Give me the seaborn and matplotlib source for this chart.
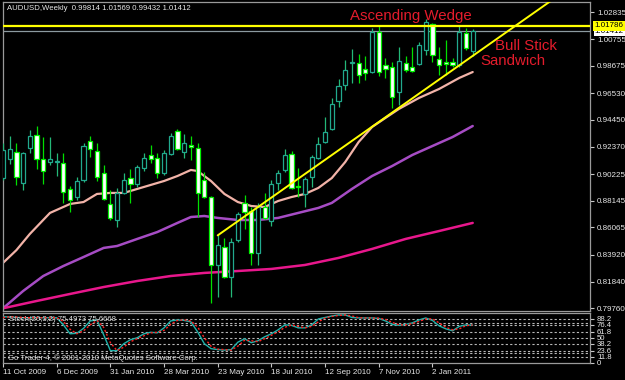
import matplotlib
matplotlib.use('Agg')
import matplotlib.pyplot as plt
import matplotlib.transforms as mtransforms
import numpy as np
import pandas as pd
import seaborn as sns

# ---------------- data ----------------
date_labels = ['11 Oct 2009', '6 Dec 2009', '31 Jan 2010', '28 Mar 2010', '23 May 2010',
               '18 Jul 2010', '12 Sep 2010', '7 Nov 2010', '2 Jan 2011']
date_weeks = [0, 8, 16, 24, 32, 40, 48, 56, 64]

opens = [0.8992, 0.9141, 0.9195, 0.8954, 0.9227, 0.9328, 0.9141, 0.9117, 0.9117, 0.9110,
         0.8907, 0.8844, 0.8977, 0.9281, 0.9203, 0.9032, 0.8790, 0.8665, 0.8876, 0.8992,
         0.8946, 0.9071, 0.9172, 0.9149, 0.9032, 0.9180, 0.9359, 0.9195, 0.9250, 0.9227,
         0.8977, 0.8844, 0.8314, 0.8454, 0.8221, 0.8509, 0.8798, 0.8735, 0.8408, 0.8766,
         0.8657, 0.8954, 0.9055, 0.9180, 0.8930, 0.8868, 0.9000, 0.9149, 0.9273, 0.9375,
         0.9593, 0.9718, 0.9890, 0.9890, 0.9843, 0.9819, 1.0131, 0.9874, 0.9858, 0.9663,
         0.9890, 0.9858, 0.9882, 0.9991, 1.0194, 0.9921, 0.9897, 0.9897, 0.9874, 1.0124,
         0.99814]
highs = [0.9266, 0.9320, 0.9266, 0.9195, 0.9367, 0.9398, 0.9312, 0.9312, 0.9188, 0.9188,
         0.8930, 0.9000, 0.9266, 0.9320, 0.9266, 0.9094, 0.8899, 0.8915, 0.9032, 0.9063,
         0.9094, 0.9188, 0.9250, 0.9188, 0.9211, 0.9344, 0.9375, 0.9336, 0.9320, 0.9266,
         0.9039, 0.8852, 0.8556, 0.8525, 0.8525, 0.8727, 0.8860, 0.8766, 0.8798, 0.8876,
         0.8977, 0.9055, 0.9219, 0.9203, 0.9071, 0.9000, 0.9172, 0.9312, 0.9468, 0.9617,
         0.9765, 0.9913, 0.9999, 0.9960, 0.9944, 1.0163, 1.0178, 0.9929, 0.9897, 1.0014,
         0.9944, 1.0014, 1.0053, 1.0233, 1.0202, 1.0014, 1.0069, 0.9929, 1.0186, 1.0163,
         1.01569]
lows = [0.8977, 0.9102, 0.8938, 0.8899, 0.9188, 0.9063, 0.8946, 0.9094, 0.9008, 0.8798,
        0.8727, 0.8821, 0.8961, 0.9156, 0.8969, 0.8821, 0.8665, 0.8610, 0.8868, 0.8798,
        0.8922, 0.9047, 0.9110, 0.8992, 0.9016, 0.9172, 0.9211, 0.9149, 0.9133, 0.8688,
        0.8837, 0.8018, 0.8065, 0.8213, 0.8065, 0.8493, 0.8595, 0.8314, 0.8314, 0.8673,
        0.8618, 0.8899, 0.9039, 0.8907, 0.8844, 0.8766, 0.8922, 0.9141, 0.9266, 0.9367,
        0.9546, 0.9679, 0.9734, 0.9734, 0.9757, 0.9812, 0.9788, 0.9773, 0.9539, 0.9562,
        0.9819, 0.9819, 0.9874, 0.9952, 0.9897, 0.9796, 0.9796, 0.9858, 0.9858, 0.9991,
        0.99432]
closes = [0.9211, 0.9219, 0.9000, 0.9188, 0.9320, 0.9141, 0.9047, 0.9141, 0.9125, 0.8883,
          0.8821, 0.8969, 0.9242, 0.9219, 0.9000, 0.8829, 0.8681, 0.8876, 0.8977, 0.8946,
          0.9078, 0.9149, 0.9141, 0.9032, 0.9188, 0.9320, 0.9219, 0.9266, 0.9234, 0.8876,
          0.8844, 0.8314, 0.8470, 0.8221, 0.8493, 0.8712, 0.8727, 0.8408, 0.8766, 0.8681,
          0.8946, 0.9032, 0.9172, 0.8915, 0.8922, 0.8985, 0.9156, 0.9258, 0.9351, 0.9570,
          0.9710, 0.9835, 0.9897, 0.9796, 0.9812, 1.0131, 0.9819, 0.9843, 0.9624, 0.9905,
          0.9835, 0.9827, 1.0030, 1.0209, 0.9952, 0.9874, 0.9882, 0.9874, 1.0131, 1.0006,
          1.01412]

ma_fast_weeks = [0, 2, 4, 7, 10, 12, 14, 16, 18, 20, 22, 24, 26, 28, 29, 31, 33, 35, 37,
                 39, 41, 43, 45, 47, 49, 51, 53, 55, 57, 59, 62, 65, 68, 70]
ma_fast = [0.8330, 0.8430, 0.8556, 0.8720, 0.8790, 0.8805, 0.8868, 0.8876, 0.8876, 0.8907,
           0.8938, 0.8969, 0.9008, 0.9055, 0.9047, 0.8969, 0.8868, 0.8805, 0.8774, 0.8766,
           0.8813, 0.8844, 0.8868, 0.8915, 0.8992, 0.9117, 0.9273, 0.9390, 0.9461, 0.9531,
           0.9617, 0.9687, 0.9773, 0.9819]
ma_mid_weeks = [0, 3, 6, 9, 12, 15, 17, 20, 23, 26, 28, 30, 32, 35, 38, 41, 44, 47, 49,
                52, 55, 58, 61, 64, 67, 70]
ma_mid = [0.7976, 0.8111, 0.8228, 0.8306, 0.8376, 0.8447, 0.8462, 0.8517, 0.8571, 0.8642,
          0.8688, 0.8696, 0.8681, 0.8665, 0.8665, 0.8681, 0.8720, 0.8759, 0.8798, 0.8907,
          0.9008, 0.9086, 0.9172, 0.9242, 0.9312, 0.9398]
ma_slow_weeks = [0, 5, 10, 15, 20, 25, 30, 35, 40, 45, 50, 55, 60, 65, 70]
ma_slow = [0.7976, 0.8033, 0.8088, 0.8142, 0.8189, 0.8228, 0.8252, 0.8267, 0.8283, 0.8314,
           0.8369, 0.8439, 0.8517, 0.8579, 0.8642]

trend_weeks = [32, 82]
trend_prices = [0.8545, 1.0387]
resistance = 1.01786
bid = 1.01412

stoch_main = [92.5, 92, 91, 90.5, 90.5, 90.5, 90.5, 90.5, 90.5, 76, 58, 59, 69, 84, 86, 56,
              24, 24, 38, 46, 50, 58, 61, 60, 70, 84, 86, 85, 82, 62, 38, 28, 26, 25, 26,
              41, 48, 40, 44, 52, 58, 66, 76, 75, 70, 70, 76, 88, 91, 94, 96, 96, 91, 90,
              90, 90, 89, 84, 77, 75, 77, 80, 86, 90, 85, 74, 68, 64, 73, 76, 75.4973]
stoch_signal = [91, 92, 92, 91, 90.5, 90.5, 90.5, 90.5, 90.5, 83, 67, 58, 64, 76, 85, 71,
                40, 24, 31, 42, 48, 54, 60, 61, 65, 77, 85, 86, 84, 72, 50, 33, 27, 26, 25,
                33, 45, 44, 42, 48, 55, 62, 71, 76, 73, 70, 73, 82, 90, 93, 95, 96, 94, 90.5,
                90, 90, 89.5, 87, 81, 76, 76, 78.5, 83, 88, 88, 80, 71, 66, 68, 74.5, 75.6668]
stoch_levels = [88.2, 80, 76.4, 61.8, 50, 38.2, 23.6, 20, 11.8]
stoch_tick_vals = [88.2, 76.4, 61.8, 50, 38.2, 23.6, 11.8, 0]

price_ticks = [1.02835, 1.00755, 0.98675, 0.96530, 0.94450, 0.92370, 0.90225, 0.88145,
               0.86065, 0.83920, 0.81840, 0.79760]

# ---------------- style ----------------
sns.set_theme(style='dark', rc={'axes.facecolor': 'black', 'figure.facecolor': 'black'})
plt.rcParams['font.family'] = ['Liberation Sans', 'DejaVu Sans']

W, H = 625, 380
fig = plt.figure(figsize=(W / 100, H / 100), dpi=100)
fig.patch.set_facecolor('black')


def fx(px):
    return px / W


def fy(py):
    return 1 - py / H


ax = fig.add_axes([fx(3), fy(311), fx(590) - fx(3), fy(2) - fy(311)])
ax2 = fig.add_axes([fx(3), fy(362.5), fx(590) - fx(3), fy(313) - fy(362.5)])
XMAX = 587 / 6.71
for a in (ax, ax2):
    a.set_facecolor('black')
    a.set_xlim(0, XMAX)
    a.grid(False)
    for s in a.spines.values():
        s.set_visible(True)
        s.set_color('#9a9a9a')
        s.set_linewidth(0.9)

ax.set_ylim(0.79550, 1.03652)

# ---------------- candles ----------------
weeks = np.arange(len(opens))
for i in weeks:
    o, h, l, c = opens[i], highs[i], lows[i], closes[i]
    bull = c >= o
    edge = '#21a98e' if bull else '#00f000'
    face = 'black' if bull else 'white'
    ax.vlines(i, l, h, color='#00e000' if not bull else '#24b878', lw=0.9, zorder=3)
    height = max(abs(c - o), 0.0004)
    ax.bar(i, height, bottom=min(o, c), width=0.62, color=face, edgecolor=edge,
           linewidth=0.9, zorder=4)

# moving averages
df_fast = pd.DataFrame({'w': ma_fast_weeks, 'p': ma_fast})
df_mid = pd.DataFrame({'w': ma_mid_weeks, 'p': ma_mid})
df_slow = pd.DataFrame({'w': ma_slow_weeks, 'p': ma_slow})
sns.lineplot(data=df_fast, x='w', y='p', ax=ax, color='#f2b3a8', lw=1.6, zorder=2)
sns.lineplot(data=df_mid, x='w', y='p', ax=ax, color='#a64cc4', lw=1.8, zorder=2)
sns.lineplot(data=df_slow, x='w', y='p', ax=ax, color='#e8178c', lw=1.8, zorder=2)

# trend line & horizontal lines
df_tr = pd.DataFrame({'w': trend_weeks, 'p': trend_prices})
sns.lineplot(data=df_tr, x='w', y='p', ax=ax, color='#ffff00', lw=1.4, zorder=5)
ax.axhline(resistance, color='#ffff00', lw=1.6, zorder=5)
ax.axhline(bid, color='#8c9aa0', lw=0.9, zorder=1)

ax.set_xlabel('')
ax.set_ylabel('')
ax.set_xticks([])
ax.yaxis.tick_right()
ax.set_yticks(price_ticks, labels=[f'{v:.5f}' for v in price_ticks])
ax.tick_params(axis='y', colors='#c8c8c8', labelcolor='#e8e8e8', labelsize=5.8,
               length=3, width=0.8, pad=2, right=True, left=False)

tr = mtransforms.blended_transform_factory(ax.transAxes, ax.transData)
ax.text(1 + 4.5 / 587, bid - 0.0005, f'{bid:.5f}', transform=tr, fontsize=5.8, color='black',
        va='center', ha='left', zorder=10, clip_on=False,
        bbox=dict(boxstyle='square,pad=0.12', fc='white', ec='none'))
ax.text(1 + 4.5 / 587, resistance, f'{resistance:.5f}', transform=tr, fontsize=5.8,
        color='black', va='center', ha='left', zorder=11, clip_on=False,
        bbox=dict(boxstyle='square,pad=0.15', fc='#ffff00', ec='none'))

# annotations
fig.text(fx(411), fy(16), 'Ascending Wedge', color='#e31c2c', fontsize=10.8,
         ha='center', va='center')
fig.text(fx(495), fy(46), 'Bull Stick', color='#e31c2c', fontsize=10.8,
         ha='left', va='center')
fig.text(fx(480), fy(61), 'Sandwich', color='#e31c2c', fontsize=10.8,
         ha='left', va='center')
fig.text(fx(7), fy(8.5), 'AUDUSD,Weekly  0.99814 1.01569 0.99432 1.01412', color='#e8e8e8',
         fontsize=5.6, ha='left', va='center')

# ---------------- stochastic panel ----------------
ax2.set_ylim(0, 100)
for lv in stoch_levels:
    ax2.axhline(lv, color='#b8b8b8', lw=0.8, ls=(0, (2, 2)), zorder=1)
df_st = pd.DataFrame({'w': weeks, 'main': stoch_main, 'sig': stoch_signal})
sns.lineplot(data=df_st, x='w', y='main', ax=ax2, color='#20b2aa', lw=1.0, zorder=3)
sns.lineplot(data=df_st, x='w', y='sig', ax=ax2, color='#ff2020', lw=1.0,
             ls=(0, (1.5, 1.5)), zorder=4)
ax2.set_xlabel('')
ax2.set_ylabel('')
ax2.yaxis.tick_right()
ax2.set_yticks(stoch_tick_vals, labels=[f'{v:g}' for v in stoch_tick_vals])
ax2.tick_params(axis='y', colors='#c8c8c8', labelcolor='#e8e8e8', labelsize=5.6,
                length=3, width=0.8, pad=2, right=True, left=False)
ax2.set_xticks(date_weeks, labels=date_labels)
ax2.tick_params(axis='x', colors='#c8c8c8', labelcolor='#e8e8e8', labelsize=5.8,
                length=3, width=0.8, pad=1.5, bottom=True)
for lbl in ax2.get_xticklabels():
    lbl.set_ha('left')
ax2.text(6 / 587, 0.86, 'Stoch(20,3,2) 75.4973 75.6668', transform=ax2.transAxes,
         color='#e0e0e0', fontsize=5.6, ha='left', va='center')
ax2.text(5 / 587, 0.08, 'Go Trader 4, \u00a9 2001-2010 MetaQuotes Software Corp.',
         transform=ax2.transAxes, color='#e0e0e0', fontsize=5.6, ha='left', va='center')

fig.savefig('out.png', dpi=100, facecolor='black')
